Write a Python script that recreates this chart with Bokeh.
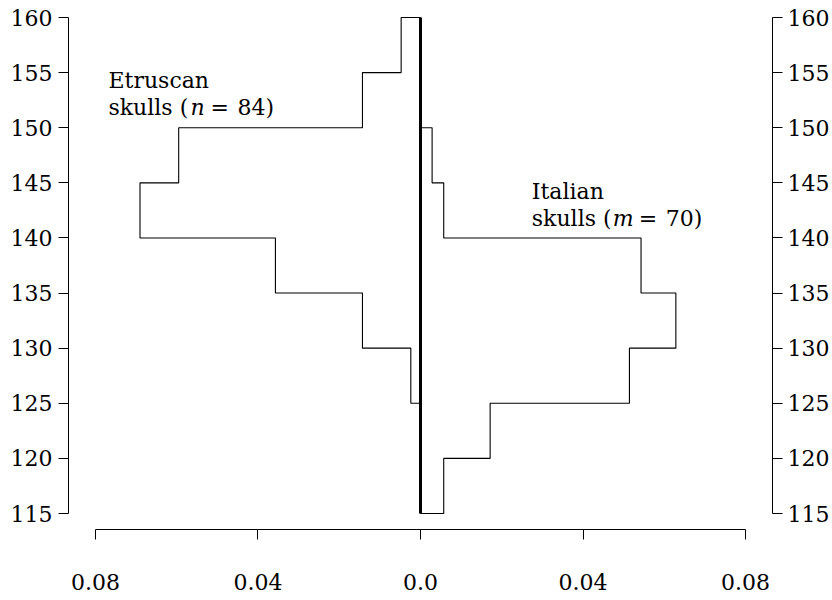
from bokeh.plotting import figure
from bokeh.models import LinearAxis, FixedTicker, Range1d, ColumnDataSource
from bokeh.core.properties import value
from bokeh.embed import file_html
from bokeh.resources import INLINE

# ---------------- data ----------------
bin_edges = [115, 120, 125, 130, 135, 140, 145, 150, 155, 160]
etruscan_counts = [0, 0, 1, 6, 15, 29, 25, 6, 2]   # n = 84
italian_counts = [2, 6, 18, 22, 19, 2, 1, 0, 0]    # m = 70
n_etruscan = 84
m_italian = 70
y_ticks = [115, 120, 125, 130, 135, 140, 145, 150, 155, 160]
x_ticks = [-0.08, -0.04, 0.0, 0.04, 0.08]
x_tick_labels = ["0.08", "0.04", "0.0", "0.04", "0.08"]

FONT = "DejaVu Serif"
FS = "22px"

width_bin = bin_edges[1] - bin_edges[0]
etr_density = [c / (n_etruscan * width_bin) for c in etruscan_counts]
ita_density = [c / (m_italian * width_bin) for c in italian_counts]


def step_path(dens, sign):
    xs, ys = [0.0], [bin_edges[-1]]
    for i in range(len(dens) - 1, -1, -1):
        d = sign * dens[i]
        xs += [d, d]
        ys += [bin_edges[i + 1], bin_edges[i]]
    xs.append(0.0)
    ys.append(bin_edges[0])
    return xs, ys


p = figure(frame_width=704, frame_height=519,
           min_border_left=68, min_border_right=60,
           min_border_top=10, min_border_bottom=71,
           x_range=Range1d(-0.086646, 0.086646),
           y_range=Range1d(113.5484, 160.6351),
           x_axis_location=None, y_axis_location=None,
           output_backend="svg", toolbar_location=None,
           background_fill_color="white", border_fill_color="white")
p.outline_line_color = None
p.xgrid.visible = False
p.ygrid.visible = False

ex, ey = step_path(etr_density, -1)
ix, iy = step_path(ita_density, 1)
p.line(ex, ey, line_color="black", line_width=1.1)
p.line(ix, iy, line_color="black", line_width=1.1)
p.line([0, 0], [bin_edges[0], bin_edges[-1]], line_color="black", line_width=3)


def style_axis(ax, standoff):
    ax.axis_line_color = "black"
    ax.axis_line_width = 1
    ax.major_tick_line_color = "black"
    ax.major_tick_out = 10
    ax.major_tick_in = 0
    ax.minor_tick_line_color = None
    ax.major_label_text_font = FONT
    ax.major_label_text_font_size = FS
    ax.major_label_text_color = "black"
    ax.major_label_standoff = standoff


for side, so in (("left", 6), ("right", 5)):
    ax = LinearAxis(ticker=FixedTicker(ticks=y_ticks), bounds=(y_ticks[0], y_ticks[-1]))
    style_axis(ax, so)
    p.add_layout(ax, side)

bx = LinearAxis(ticker=FixedTicker(ticks=x_ticks), bounds=(x_ticks[0], x_ticks[-1]))
bx.major_label_overrides = {t: l for t, l in zip(x_ticks, x_tick_labels)}
style_axis(bx, 34)
p.add_layout(bx, "below")

# ---------------- annotations ----------------
normal = ColumnDataSource(dict(
    x=[-0.07680, -0.07680, -0.07680, -0.07680, 0.02740, 0.02740, 0.02740, 0.02740],
    y=[154.28, 151.83, 151.83, 151.83, 144.21, 141.76, 141.76, 141.76],
    text=["Etruscan", "skulls (", "=", "84)", "Italian", "skulls (", "=", "70)"],
    xo=[0, 0, 102, 129, 0, 0, 107, 134],
))
italic = ColumnDataSource(dict(
    x=[-0.07680, 0.02740],
    y=[151.83, 141.76],
    text=["n", "m"],
    xo=[82, 81],
))
p.text(x="x", y="y", text="text", x_offset="xo", source=normal,
       text_font=value(FONT), text_font_size=FS, text_color="black",
       text_align="left", text_baseline="alphabetic")
p.text(x="x", y="y", text="text", x_offset="xo", source=italic,
       text_font=value(FONT), text_font_size=FS, text_font_style="italic",
       text_color="black", text_align="left", text_baseline="alphabetic")

open("out.html", "w").write(file_html(p, INLINE))
